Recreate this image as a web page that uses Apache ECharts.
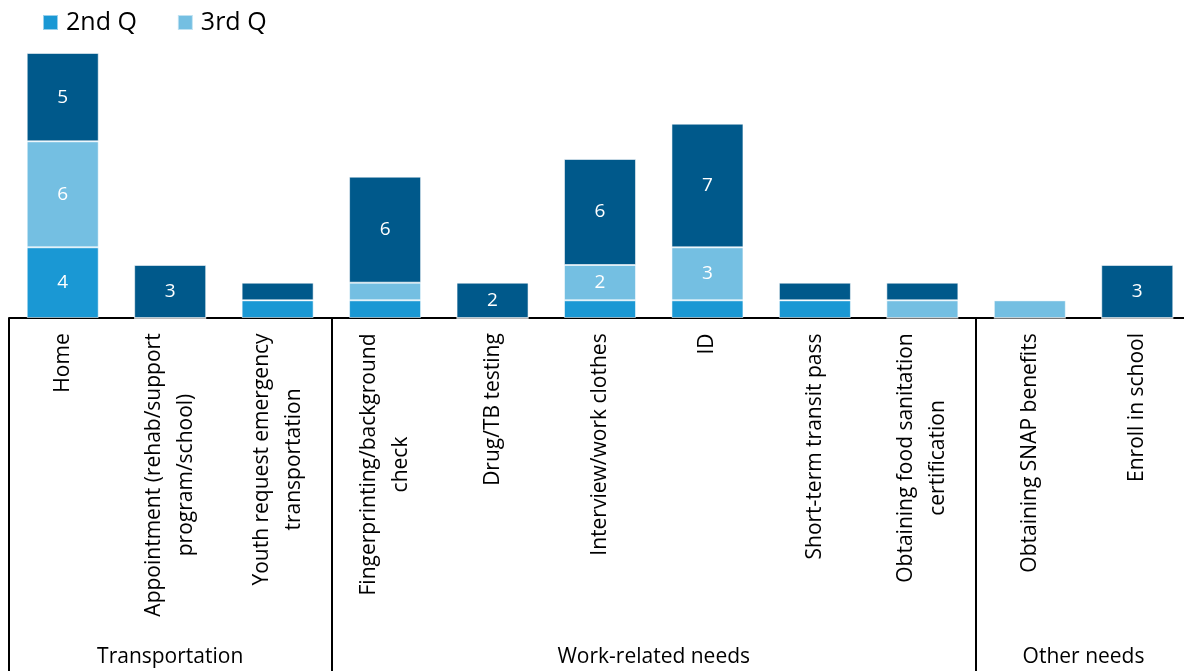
<!DOCTYPE html>
<html>
<head>
<meta charset="utf-8">
<script src="https://cdn.jsdelivr.net/npm/echarts@6/dist/echarts.min.js"></script>
<style>html,body{margin:0;padding:0;background:#fff;}#chart{width:1184px;height:671px;}</style>
</head>
<body>
<div id="chart"></div>
<script>
var categories = [
  'Home',
  'Appointment (rehab/support\nprogram/school)',
  'Youth request emergency\ntransportation',
  'Fingerprinting/background\ncheck',
  'Drug/TB testing',
  'Interview/work clothes',
  'ID',
  'Short-term transit pass',
  'Obtaining food sanitation\ncertification',
  'Obtaining SNAP benefits',
  'Enroll in school'
];
var q2 = [4, 0, 1, 1, 0, 1, 1, 1, 0, 0, 0];
var q3 = [6, 0, 0, 1, 0, 2, 3, 0, 1, 1, 0];
var q4 = [5, 3, 1, 6, 2, 6, 7, 1, 1, 0, 3];
var groups = ['Transportation', 'Work-related needs', 'Other needs'];
var groupCenters = [1.5, 6, 10];
var groupBounds = [0, 3, 9];

var FONT = '"Open Sans", "Noto Sans", sans-serif';
var LABEL_SIZE = 21;
var ctx = document.createElement('canvas').getContext('2d');
ctx.font = LABEL_SIZE + 'px "Open Sans"';
var rich = {};
categories.forEach(function (c, i) {
  var w = 0;
  c.split('\n').forEach(function (l) { w = Math.max(w, ctx.measureText(l).width); });
  rich['l' + i] = { width: Math.ceil(w) + 2, align: 'center', fontSize: LABEL_SIZE, fontFamily: FONT, color: '#000', lineHeight: 32 };
});

var chart = echarts.init(document.getElementById('chart'));
var labelCfg = {
  show: true, position: 'inside', color: '#fff', fontSize: 19, fontFamily: FONT,
  formatter: function (p) { return p.value >= 2 ? String(p.value) : ''; }
};
function mk(name, data, color) {
  return {
    name: name, type: 'bar', stack: 'total', data: data, barWidth: '67%',
    itemStyle: { color: color, borderColor: 'rgba(255,255,255,0.55)', borderWidth: 1 },
    label: labelCfg
  };
}
chart.setOption({
  animation: false,
  textStyle: { fontFamily: FONT },
  legend: {
    data: ['2nd Q', '3rd Q'], left: 37, top: 5, itemWidth: 15, itemHeight: 15, itemGap: 40,
    icon: 'rect', textStyle: { fontSize: 25, color: '#000', fontFamily: FONT, padding: [0, 0, 0, 3] }
  },
  grid: { left: 9, top: 53, width: 1182, height: 265, outerBoundsMode: 'none' },
  xAxis: [{
    type: 'category', data: categories, position: 'bottom',
    axisLine: { lineStyle: { color: '#000', width: 2 } },
    axisTick: { show: false },
    axisLabel: {
      rotate: 90, interval: 0, margin: 14,
      formatter: function (v, i) {
        return v.split('\n').map(function (l) { return '{l' + i + '|' + l + '}'; }).join('\n');
      },
      rich: rich
    }
  }, {
    type: 'value', min: 0, max: 11, position: 'bottom',
    axisLine: { show: false },
    splitLine: { show: false },
    axisTick: { show: true, customValues: groupBounds, length: 353, inside: false, lineStyle: { color: '#000', width: 2 } },
    axisLabel: {
      customValues: groupCenters, margin: 329, fontSize: 21, color: '#000', fontFamily: FONT,
      formatter: function (v) { var k = groupCenters.indexOf(v); return k >= 0 ? groups[k] : ''; }
    }
  }],
  yAxis: { type: 'value', min: 0, max: 15, show: false },
  series: [
    mk('2nd Q', q2, '#1a98d4'),
    mk('3rd Q', q3, '#74bfe2'),
    mk('4th Q', q4, '#00598b')
  ]
});
</script>
</body>
</html>
